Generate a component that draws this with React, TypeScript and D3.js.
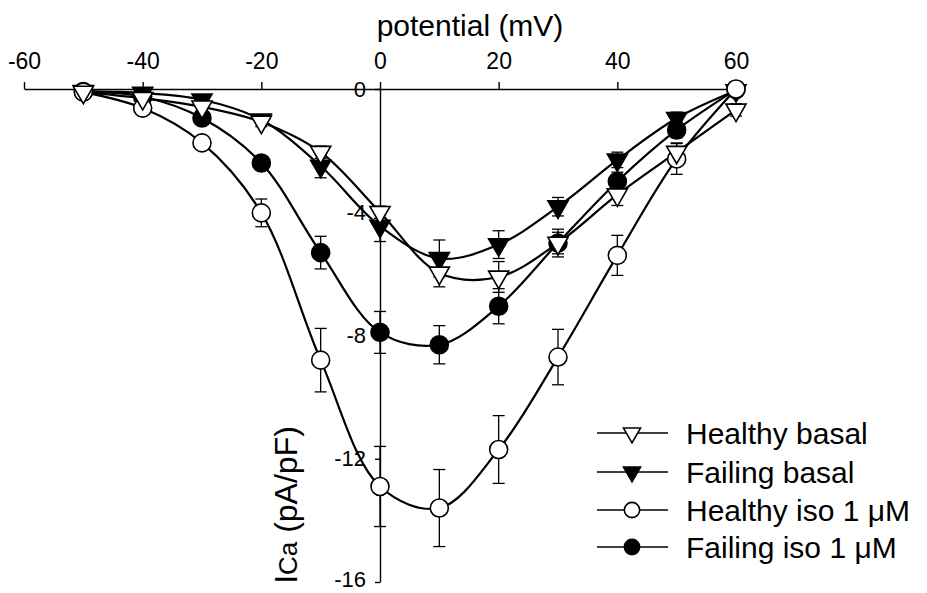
import { useRef, useEffect } from "react";
import * as d3 from "d3";

// membrane potential (mV)
const potential = [-50, -40, -30, -20, -10, 0, 10, 20, 30, 40, 50, 60];

// ICa (pA/pF), mean and s.e.m.
const healthyBasal = [-0.1, -0.3, -0.58, -1.07, -2.05, -4.0, -5.97, -6.1, -5.0, -3.43, -2.05, -0.68];
const healthyBasalErr = [0.05, 0.1, 0.1, 0.15, 0.2, 0.2, 0.45, 0.5, 0.45, 0.35, 0.3, 0.2];
const failingBasal = [-0.08, -0.13, -0.35, -1.0, -2.5, -4.45, -5.5, -5.05, -3.82, -2.3, -0.95, -0.05];
const failingBasalErr = [0.05, 0.05, 0.1, 0.15, 0.38, 0.5, 0.6, 0.45, 0.3, 0.25, 0.2, 0.1];
const healthyIso = [-0.1, -0.62, -1.75, -4.02, -8.8, -12.9, -13.6, -11.7, -8.7, -5.4, -2.27, 0];
const healthyIsoErr = [0.05, 0.1, 0.15, 0.45, 1.03, 1.3, 1.25, 1.1, 0.9, 0.65, 0.5, 0.1];
const failingIso = [-0.08, -0.25, -0.94, -2.4, -5.31, -7.9, -8.3, -7.05, -5.0, -3.0, -1.33, -0.02];
const failingIsoErr = [0.05, 0.08, 0.12, 0.2, 0.53, 0.68, 0.62, 0.57, 0.35, 0.3, 0.25, 0.1];

const xTicks = [-60, -40, -20, 0, 20, 40, 60];
const yTicks = [0, -4, -8, -12, -16];

type Series = {
  name: string;
  values: number[];
  err: number[];
  shape: "tri" | "circle";
  filled: boolean;
};

// draw order: filled first so open symbols sit on top
const series: Series[] = [
  { name: "Failing iso 1 μM", values: failingIso, err: failingIsoErr, shape: "circle", filled: true },
  { name: "Failing basal", values: failingBasal, err: failingBasalErr, shape: "tri", filled: true },
  { name: "Healthy iso 1 μM", values: healthyIso, err: healthyIsoErr, shape: "circle", filled: false },
  { name: "Healthy basal", values: healthyBasal, err: healthyBasalErr, shape: "tri", filled: false },
];
const legendOrder = ["Healthy basal", "Failing basal", "Healthy iso 1 μM", "Failing iso 1 μM"];

const FONT = "'Liberation Sans', Arial, Helvetica, sans-serif";

const App = () => {
  const svgRef = useRef<SVGSVGElement>(null);

  useEffect(() => {
    const svg = d3.select(svgRef.current);
    svg.selectAll("*").remove();

    const x = d3.scaleLinear().domain([-60, 60]).range([24, 736]);
    const y = d3.scaleLinear().domain([0, -16]).range([89, 582]);

    const addMarker = (g: any, s: Series, cx: number, cy: number, scale = 1) => {
      if (s.shape === "circle") {
        g.append("circle")
          .attr("cx", cx)
          .attr("cy", cy)
          .attr("r", 9 * scale)
          .attr("fill", s.filled ? "#000" : "#fff")
          .attr("stroke", "#000")
          .attr("stroke-width", 1.6);
      } else {
        g.append("path")
          .attr("d", d3.symbol(d3.symbolTriangle, 175 * scale * scale)())
          .attr("transform", `translate(${cx},${cy}) rotate(180)`)
          .attr("fill", s.filled ? "#000" : "#fff")
          .attr("stroke", "#000")
          .attr("stroke-width", 1.6);
      }
    };

    // x axis on top
    const xAxis = d3
      .axisTop(x)
      .tickValues(xTicks)
      .tickSize(7)
      .tickSizeOuter(0)
      .tickPadding(13)
      .tickFormat((d) => `${d}`);
    const gx = svg.append("g").attr("transform", "translate(0,89)").call(xAxis);
    gx.selectAll("path,line").attr("stroke", "#000").attr("stroke-width", 1.4);
    gx.selectAll("text").style("font-family", FONT).style("font-size", "23px").attr("fill", "#000");

    // y axis through x = 0
    const yAxis = d3
      .axisLeft(y)
      .tickValues(yTicks)
      .tickSize(5)
      .tickSizeOuter(0)
      .tickPadding(9)
      .tickFormat((d) => `${d}`);
    const gy = svg.append("g").attr("transform", `translate(${x(0)},0)`).call(yAxis);
    gy.selectAll("path,line").attr("stroke", "#000").attr("stroke-width", 1.4);
    gy.selectAll("text").style("font-family", FONT).style("font-size", "22px").attr("fill", "#000");
    // keep the bottom label inside the frame
    gy.selectAll("text")
      .filter((d) => d === -16)
      .attr("dy", "0.2em");

    // titles
    svg
      .append("text")
      .attr("x", 470)
      .attr("y", 36)
      .attr("text-anchor", "middle")
      .style("font-family", FONT)
      .style("font-size", "30px")
      .text("potential (mV)");

    const yl = svg
      .append("text")
      .attr("transform", "translate(297,505) rotate(-90)")
      .attr("text-anchor", "middle")
      .style("font-family", FONT)
      .style("font-size", "32px");
    yl.append("tspan").text("I");
    yl.append("tspan").style("font-size", "26px").text("Ca");
    yl.append("tspan").text(" (pA/pF)");

    const line = d3
      .line<number>()
      .x((d, i) => x(potential[i]))
      .y((d) => y(d))
      .curve(d3.curveCatmullRom.alpha(0.5));

    // error bars
    const gErr = svg.append("g").attr("stroke", "#000").attr("stroke-width", 1.3);
    series.forEach((s) => {
      s.values.forEach((v, i) => {
        const cx = x(potential[i]);
        const y1 = y(v + s.err[i]);
        const y2 = y(v - s.err[i]);
        gErr.append("line").attr("x1", cx).attr("x2", cx).attr("y1", y1).attr("y2", y2);
        gErr.append("line").attr("x1", cx - 6).attr("x2", cx + 6).attr("y1", y1).attr("y2", y1);
        gErr.append("line").attr("x1", cx - 6).attr("x2", cx + 6).attr("y1", y2).attr("y2", y2);
      });
    });

    // curves
    series.forEach((s) => {
      svg
        .append("path")
        .attr("d", line(s.values))
        .attr("fill", "none")
        .attr("stroke", "#000")
        .attr("stroke-width", 2.2);
    });

    // markers
    series.forEach((s) => {
      const g = svg.append("g");
      s.values.forEach((v, i) => addMarker(g, s, x(potential[i]), y(v)));
    });

    // legend
    const legendY = [433, 472, 510, 547];
    legendOrder.forEach((name, k) => {
      const s = series.find((d) => d.name === name)!;
      const g = svg.append("g");
      g.append("line")
        .attr("x1", 597)
        .attr("x2", 668)
        .attr("y1", legendY[k])
        .attr("y2", legendY[k])
        .attr("stroke", "#000")
        .attr("stroke-width", 1.6);
      addMarker(g, s, 632, legendY[k], 0.85);
      g.append("text")
        .attr("x", 686)
        .attr("y", legendY[k])
        .attr("dy", "0.35em")
        .style("font-family", FONT)
        .style("font-size", "30px")
        .text(name);
    });
  }, []);

  return (
    <svg
      ref={svgRef}
      width={927}
      height={593}
      style={{ position: "absolute", left: 0, top: 0, background: "#fff" }}
    ></svg>
  );
};

export default App;
